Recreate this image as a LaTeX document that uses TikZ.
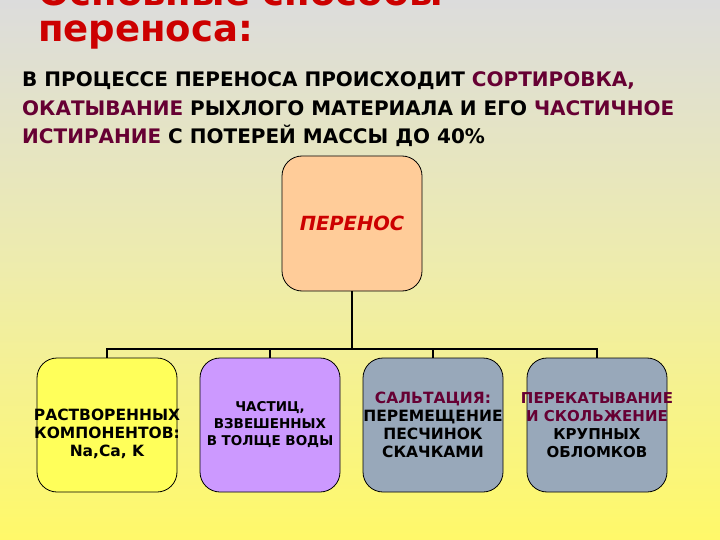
\documentclass[tikz,border=0pt]{standalone}
\usepackage{fontspec}
\setmainfont{DejaVu Sans}
\definecolor{bgtop}{RGB}{220,220,220}
\definecolor{bgmid}{RGB}{238,236,172}
\definecolor{bgbot}{RGB}{255,249,105}
\definecolor{titlered}{RGB}{204,0,0}
\definecolor{maroon}{RGB}{102,0,51}
\definecolor{peach}{RGB}{255,204,153}
\definecolor{boxyellow}{RGB}{255,255,90}
\definecolor{boxpurple}{RGB}{204,153,255}
\definecolor{boxgray}{RGB}{152,168,186}
\tikzset{
  roundbox/.style={draw=black, line width=0.8pt, rounded corners=20pt,
    minimum width=140pt, minimum height=134pt, inner sep=0pt},
  treeline/.style={draw=black, line width=1.6pt},
  boxtext/.style={align=center, inner sep=0pt, font=\bfseries\fontsize{15.5}{18}\selectfont},
  paraline/.style={anchor=base west, inner sep=0pt, font=\bfseries\fontsize{20}{24}\selectfont},
  titletext/.style={anchor=base west, inner sep=0pt, text=titlered, font=\bfseries\fontsize{37}{37}\selectfont},
}
\begin{document}
\begin{tikzpicture}[x=1pt, y=-1pt]
\useasboundingbox (0,0) rectangle (720,540);
\clip (0,0) rectangle (720,540);
\shade[top color=bgtop, bottom color=bgbot, middle color=bgmid] (0,0) rectangle (720,540);

% title
\node[titletext] (title1) at (38,6) {Основные способы};
\node[titletext] (title2) at (38,42) {переноса:};

% paragraph
\node[paraline] (p1) at (22,87) {В ПРОЦЕССЕ ПЕРЕНОСА ПРОИСХОДИТ \textcolor{maroon}{СОРТИРОВКА,}};
\node[paraline] (p2) at (22,116) {\textcolor{maroon}{ОКАТЫВАНИЕ} РЫХЛОГО МАТЕРИАЛА И ЕГО \textcolor{maroon}{ЧАСТИЧНОЕ}};
\node[paraline] (p3) at (22,144) {\textcolor{maroon}{ИСТИРАНИЕ} С ПОТЕРЕЙ МАССЫ ДО 40\%};

% top box
\node[roundbox, fill=peach, minimum height=135pt, text=titlered,
      font=\bfseries\itshape\fontsize{19.5}{20}\selectfont] (top) at (352,223.5) {ПЕРЕНОС};

% lower boxes
\node[roundbox, fill=boxyellow] (b1) at (107,425) {};
\node[roundbox, fill=boxpurple] (b2) at (270,425) {};
\node[roundbox, fill=boxgray] (b3) at (433,425) {};
\node[roundbox, fill=boxgray] (b4) at (597,425) {};

\node[boxtext] (t1) at ([yshift=-9pt]b1.center) {РАСТВОРЕННЫХ\\КОМПОНЕНТОВ:\\Na,Ca, K};
\node[boxtext, font=\bfseries\fontsize{13.5}{17}\selectfont] (t2) at (b2.center) {ЧАСТИЦ,\\ВЗВЕШЕННЫХ\\В ТОЛЩЕ ВОДЫ};
\node[boxtext] (t3) at (b3.center) {\textcolor{maroon}{САЛЬТАЦИЯ:}\\ПЕРЕМЕЩЕНИЕ\\ПЕСЧИНОК\\СКАЧКАМИ};
\node[boxtext, font=\bfseries\fontsize{15}{18}\selectfont] (t4) at (b4.center) {\textcolor{maroon}{ПЕРЕКАТЫВАНИЕ}\\\textcolor{maroon}{И СКОЛЬЖЕНИЕ}\\КРУПНЫХ\\ОБЛОМКОВ};

% tree connectors
\coordinate (bus) at (352,349);
\draw[treeline] (top.south) -- (top.south |- bus);
\draw[treeline] (top.south |- bus) -| (b1.north);
\draw[treeline] (top.south |- bus) -| (b2.north);
\draw[treeline] (top.south |- bus) -| (b3.north);
\draw[treeline] (top.south |- bus) -| (b4.north);
\end{tikzpicture}
\end{document}
